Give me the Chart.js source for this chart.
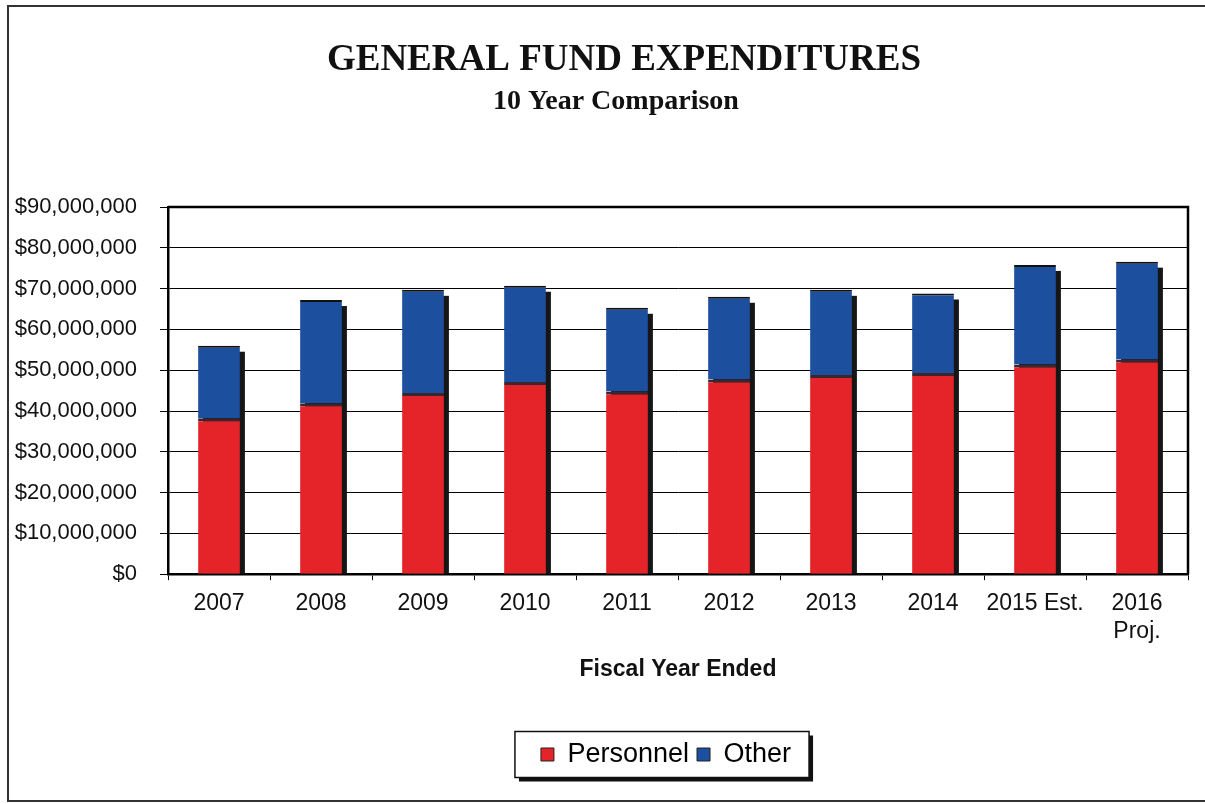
<!DOCTYPE html>
<html>
<head>
<meta charset="utf-8">
<script src="https://cdn.jsdelivr.net/npm/chart.js@4.4.1/dist/chart.umd.min.js"></script>
<style>
  html, body { margin: 0; padding: 0; background: #fff; }
  canvas { display: block; }
</style>
</head>
<body>
<canvas id="chart" width="1205" height="804"></canvas>
<script>
var years = ['2007', '2008', '2009', '2010', '2011', '2012', '2013', '2014', '2015 Est.', ['2016', 'Proj.']];
var personnel = [38200000, 41900000, 44400000, 47100000, 44800000, 47700000, 48800000, 49300000, 51400000, 52600000];
var other = [17800000, 25300000, 25300000, 23600000, 20500000, 20300000, 20900000, 19500000, 24400000, 24000000];
var yStep = 10000000;
var yMax = 90000000;

var RED = '#e5242a';
var BLUE = '#1d4f9f';

// page frame, legend box, column shadows and the plot frame
var framePlugin = {
    id: 'frames',
    afterLayout: function (chart) {
        // nudge the headings right of the page centre, legend a bit left
        chart.boxes.forEach(function (b) {
            if (b.options && b.options.text && b.position === 'top') {
                var dx = b.options.text === 'GENERAL FUND EXPENDITURES' ? 30 : 22;
                b.left += dx;
                b.right += dx;
            }
        });
        chart.legend.left -= 12;
        chart.legend.right -= 12;
    },
    beforeDraw: function (chart) {
        var ctx = chart.ctx;
        ctx.save();
        ctx.strokeStyle = '#333';
        ctx.lineWidth = 2;
        ctx.strokeRect(8, 6, 1210, 795);

        var boxes = chart.legend.legendHitBoxes;
        if (boxes && boxes.length) {
            var minX = Infinity, maxX = -Infinity, minY = Infinity, maxY = -Infinity;
            boxes.forEach(function (b) {
                minX = Math.min(minX, b.left);
                maxX = Math.max(maxX, b.left + b.width);
                minY = Math.min(minY, b.top);
                maxY = Math.max(maxY, b.top + b.height);
            });
            var x = minX - 26, y = (minY + maxY) / 2 - 23, w = maxX - minX + 44, h = 46;
            ctx.fillStyle = '#111';
            ctx.fillRect(x + 4, y + 4, w, h);
            ctx.fillStyle = '#fff';
            ctx.fillRect(x, y, w, h);
            ctx.strokeStyle = '#111';
            ctx.lineWidth = 1.5;
            ctx.strokeRect(x, y, w, h);
        }
        ctx.restore();
    },
    beforeDatasetsDraw: function (chart) {
        var ctx = chart.ctx;
        var low = chart.getDatasetMeta(0).data;
        var high = chart.getDatasetMeta(1).data;
        ctx.save();
        ctx.fillStyle = '#161616';
        for (var i = 0; i < high.length; i++) {
            var top = high[i].y;
            var base = low[i].base;
            var w = high[i].width;
            ctx.fillRect(high[i].x - w / 2 + 5, top + 6, w, base - top - 6);
        }
        ctx.restore();
    },
    afterDatasetsDraw: function (chart) {
        var a = chart.chartArea;
        var ctx = chart.ctx;
        ctx.save();
        ctx.strokeStyle = '#000';
        ctx.lineWidth = 2.5;
        ctx.beginPath();
        ctx.moveTo(a.left, a.top);
        ctx.lineTo(a.right, a.top);
        ctx.lineTo(a.right, a.bottom);
        ctx.stroke();
        ctx.restore();
    }
};

var ctx = document.getElementById('chart').getContext('2d');
var chart = new Chart(ctx, {
    type: 'bar',
    data: {
        labels: years,
        datasets: [{
            label: 'Personnel',
            data: personnel,
            backgroundColor: RED,
            borderColor: '#3a2630',
            borderWidth: {top: 3, left: 0, right: 0, bottom: 0},
            borderSkipped: false
        }, {
            label: 'Other',
            data: other,
            backgroundColor: BLUE,
            borderColor: '#111',
            borderWidth: {top: 2, left: 0, right: 0, bottom: 0},
            borderSkipped: false
        }]
    },
    options: {
        responsive: false,
        animation: false,
        layout: {padding: {left: 0, right: 17, top: 0, bottom: 26}},
        datasets: {
            bar: {categoryPercentage: 1, barPercentage: 0.41}
        },
        plugins: {
            title: {
                display: true,
                text: 'GENERAL FUND EXPENDITURES',
                color: '#111',
                font: {family: 'Liberation Serif', size: 37, weight: 'bold'},
                padding: {top: 38, bottom: 3}
            },
            subtitle: {
                display: true,
                text: '10 Year Comparison',
                color: '#111',
                font: {family: 'Liberation Serif', size: 28, weight: 'bold'},
                padding: {top: 0, bottom: 88}
            },
            legend: {
                position: 'bottom',
                fullSize: false,
                labels: {
                    color: '#111',
                    font: {family: 'Liberation Sans', size: 27},
                    boxWidth: 13,
                    boxHeight: 13,
                    padding: 8,
                    generateLabels: function (c) {
                        return c.data.datasets.map(function (ds, i) {
                            return {
                                text: ds.label,
                                fillStyle: ds.backgroundColor,
                                strokeStyle: '#222',
                                lineWidth: 1,
                                datasetIndex: i
                            };
                        });
                    }
                }
            },
            tooltip: {enabled: false}
        },
        scales: {
            x: {
                stacked: true,
                offset: true,
                grid: {
                    offset: true,
                    drawOnChartArea: false,
                    drawTicks: true,
                    tickLength: 6,
                    color: '#000'
                },
                border: {color: '#000', width: 2.5},
                ticks: {
                    color: '#111',
                    font: {family: 'Liberation Sans', size: 23},
                    padding: 10,
                    maxRotation: 0,
                    autoSkip: false
                },
                title: {
                    display: true,
                    text: 'Fiscal Year Ended',
                    color: '#111',
                    font: {family: 'Liberation Sans', size: 23, weight: 'bold'},
                    padding: {top: 0, bottom: 50}
                }
            },
            y: {
                stacked: true,
                min: 0,
                max: yMax,
                afterFit: function (s) { s.width = 168; },
                grid: {
                    color: '#000',
                    lineWidth: 1,
                    tickLength: 8
                },
                border: {color: '#000', width: 2.5},
                ticks: {
                    stepSize: yStep,
                    autoSkip: false,
                    color: '#111',
                    font: {family: 'Liberation Sans', size: 22},
                    padding: 23,
                    callback: function (v) { return '$' + v.toLocaleString('en-US'); }
                }
            }
        }
    },
    plugins: [framePlugin]
});
</script>
</body>
</html>
